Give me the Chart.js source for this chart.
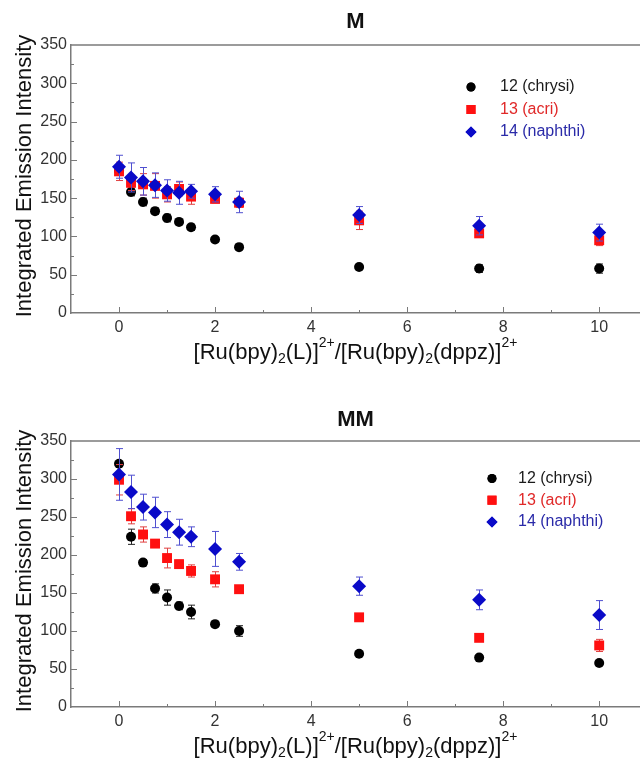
<!DOCTYPE html>
<html>
<head>
<meta charset="utf-8">
<script src="https://cdn.jsdelivr.net/npm/chart.js@4/dist/chart.umd.min.js"></script>
<style>
  body { margin: 0; background: #fff; }
  canvas { display: block; }
</style>
</head>
<body>
<canvas id="chartM" width="640" height="370"></canvas>
<canvas id="chartMM" width="640" height="393"></canvas>
<script>
// ratio [Ru(bpy)2(L)]2+ / [Ru(bpy)2(dppz)]2+
const ratios = [0, 0.25, 0.5, 0.75, 1, 1.25, 1.5, 2, 2.5, 5, 7.5, 10];
const xTicks = [0, 2, 4, 6, 8, 10];
const seriesNames = ["12 (chrysi)", "13 (acri)", "14 (naphthi)"];

// M
const mChrysi = [186, 158, 145, 133, 124, 119, 112, 96, 86, 60, 58, 58];
const mChrysiErr = [4, 5, 5, 4, 5, 3, 4, 3, 3, 3, 5, 6];
const mAcri = [185, 170, 168, 166, 155, 162, 152, 149, 144, 121, 104, 95];
const mAcriErr = [12, 10, 14, 16, 10, 9, 10, 5, 6, 12, 5, 7];
const mNaphthi = [191, 177, 172, 167, 160, 157, 159, 155, 145, 128, 114, 105];
const mNaphthiErr = [15, 19, 18, 16, 14, 15, 9, 10, 14, 11, 12, 11];

// MM
const mmChrysi = [320, 224, 190, 156, 144, 133, 125, 109, 100, 70, 65, 58];
const mmChrysiErr = [3, 10, 4, 6, 10, 5, 9, 3, 7, 3, 3, 3];
const mmAcri = [299, 251, 227, 215, 196, 188, 179, 168, 155, 118, 91, 81];
const mmAcriErr = [20, 10, 10, 5, 13, 5, 8, 10, 4, 4, 4, 8];
const mmNaphthi = [306, 283, 263, 256, 240, 230, 224, 208, 191, 159, 141, 121];
const mmNaphthiErr = [34, 22, 17, 20, 17, 17, 13, 23, 11, 12, 13, 19];

const FONT = "'Liberation Sans', Arial, sans-serif";
const AXIS_GRAY = "#7a7a7a";

const styles = [
    { color: "#000000", bar: "#222222", text: "#1a1a1a", shape: "circle", r: 5, lr: 4.5 },
    { color: "#ff1010", bar: "#e04040", text: "#e02828", shape: "rect", r: 7, lr: 6.4 },
    { color: "#0a0ac8", bar: "#5050d0", text: "#2a2aa8", shape: "rectRot", r: 7, lr: 5.5 }
];

function points(ys) {
    return ratios.map((x, i) => ({ x: x, y: ys[i] }));
}

function makeDatasets(values, errors) {
    return values.map((ys, k) => ({
        label: seriesNames[k],
        data: points(ys),
        errors: errors[k],
        errColor: styles[k].bar,
        order: 3 - k,
        showLine: false,
        pointStyle: styles[k].shape,
        pointRadius: styles[k].r,
        pointHoverRadius: styles[k].r,
        pointBackgroundColor: styles[k].color,
        pointBorderColor: styles[k].color,
        pointBorderWidth: 0
    }));
}

// vertical error bars with caps, drawn just under each dataset's markers
const errorBars = {
    id: "errorBars",
    beforeDatasetDraw(chart, args) {
        const ds = chart.data.datasets[args.index];
        if (!ds.errors) return;
        const ctx = chart.ctx;
        const yScale = chart.scales.y;
        ctx.save();
        ctx.strokeStyle = ds.errColor;
        ctx.lineWidth = 1;
        args.meta.data.forEach((pt, i) => {
            const v = ds.data[i].y;
            const e = ds.errors[i];
            const top = yScale.getPixelForValue(v + e);
            const bot = yScale.getPixelForValue(v - e);
            const x = Math.round(pt.x) + 0.5;
            ctx.beginPath();
            ctx.moveTo(x, top);
            ctx.lineTo(x, bot);
            ctx.moveTo(x - 3.5, top);
            ctx.lineTo(x + 3.5, top);
            ctx.moveTo(x - 3.5, bot);
            ctx.lineTo(x + 3.5, bot);
            ctx.stroke();
        });
        ctx.restore();
    }
};

// inward ticks, top frame line, axis titles and the legend
const frame = {
    id: "frame",
    afterDraw(chart, args, opts) {
        const ctx = chart.ctx;
        const area = chart.chartArea;
        const xs = chart.scales.x;
        const ys = chart.scales.y;
        ctx.save();

        ctx.strokeStyle = AXIS_GRAY;
        ctx.lineWidth = 1.5;
        ctx.beginPath();
        ctx.moveTo(area.left, area.top);
        ctx.lineTo(area.right, area.top);
        ctx.stroke();

        ctx.lineWidth = 1;
        ctx.beginPath();
        for (let v = 0; v <= 10; v++) {
            const px = Math.round(xs.getPixelForValue(v)) + 0.5;
            const len = v % 2 === 0 ? 6 : 3;
            ctx.moveTo(px, area.bottom);
            ctx.lineTo(px, area.bottom - len);
        }
        for (let v = 25; v < 350; v += 25) {
            const py = Math.round(ys.getPixelForValue(v)) + 0.5;
            const len = v % 50 === 0 ? 6 : 3;
            ctx.moveTo(area.left, py);
            ctx.lineTo(area.left + len, py);
        }
        ctx.stroke();

        // y title
        ctx.fillStyle = "#111";
        ctx.font = "22px " + FONT;
        ctx.textAlign = "center";
        ctx.textBaseline = "middle";
        ctx.save();
        ctx.translate(25, (area.top + area.bottom) / 2 - 3);
        ctx.rotate(-Math.PI / 2);
        ctx.fillText("Integrated Emission Intensity", 0, 0);
        ctx.restore();

        // x title with sub/superscripts
        const parts = [
            ["[Ru(bpy)", 0], ["2", 1], ["(L)]", 0], ["2+", -1],
            ["/[Ru(bpy)", 0], ["2", 1], ["(dppz)]", 0], ["2+", -1]
        ];
        const big = "22px " + FONT, small = "14px " + FONT;
        let total = 0;
        parts.forEach(p => {
            ctx.font = p[1] ? small : big;
            total += ctx.measureText(p[0]).width;
        });
        let cx = (area.left + area.right) / 2 - total / 2;
        const cy = area.bottom + 39.5;
        ctx.textAlign = "left";
        parts.forEach(p => {
            ctx.font = p[1] ? small : big;
            const dy = p[1] === 1 ? 7 : p[1] === -1 ? -9 : 0;
            ctx.fillText(p[0], cx, cy + dy);
            cx += ctx.measureText(p[0]).width;
        });

        // legend
        const lg = opts.legend;
        ctx.font = "16px " + FONT;
        styles.forEach((s, k) => {
            const y = lg.y + k * lg.dy;
            ctx.fillStyle = s.color;
            Chart.helpers.drawPoint(ctx, { pointStyle: s.shape, radius: s.lr, rotation: 0, borderWidth: 0 }, lg.x, y);
            ctx.fill();
            ctx.fillStyle = s.text;
            ctx.fillText(seriesNames[k], lg.x + lg.gap, y);
        });

        ctx.restore();
    }
};

function makeChart(id, title, titlePad, xAxisHeight, legend, values, errors) {
    return new Chart(id, {
        type: "scatter",
        data: { datasets: makeDatasets(values, errors) },
        options: {
            responsive: false,
            animation: false,
            layout: { padding: 0, autoPadding: false },
            plugins: {
                legend: { display: false },
                tooltip: { enabled: false },
                title: {
                    display: true,
                    text: title,
                    fullSize: false,
                    color: "#111",
                    font: { family: FONT, size: 22, weight: "bold" },
                    padding: titlePad
                },
                frame: { legend: legend }
            },
            scales: {
                x: {
                    type: "linear",
                    min: -1,
                    max: 10.85,
                    afterBuildTicks: s => { s.ticks = xTicks.map(v => ({ value: v })); },
                    afterFit: s => { s.height = xAxisHeight; s.paddingLeft = 0; s.paddingRight = 0; },
                    grid: { display: false, drawTicks: false },
                    border: { display: true, color: AXIS_GRAY, width: 1.5 },
                    ticks: { color: "#333", padding: 5, font: { family: FONT, size: 16 } }
                },
                y: {
                    min: 0,
                    max: 350,
                    afterFit: s => { s.width = 71; s.paddingTop = 0; s.paddingBottom = 0; },
                    grid: { display: false, drawTicks: false },
                    border: { display: true, color: AXIS_GRAY, width: 1.5 },
                    ticks: { stepSize: 50, color: "#333", padding: 4, font: { family: FONT, size: 16 } }
                }
            }
        },
        plugins: [errorBars, frame]
    });
}

makeChart("chartM", "M", { top: 9, bottom: 9.6 }, 57,
    { x: 471, y: 87, dy: 22.5, gap: 29 },
    [mChrysi, mAcri, mNaphthi], [mChrysiErr, mAcriErr, mNaphthiErr]);

makeChart("chartMM", "MM", { top: 37, bottom: 7.6 }, 56,
    { x: 492, y: 108.5, dy: 21.7, gap: 26 },
    [mmChrysi, mmAcri, mmNaphthi], [mmChrysiErr, mmAcriErr, mmNaphthiErr]);
</script>
</body>
</html>
